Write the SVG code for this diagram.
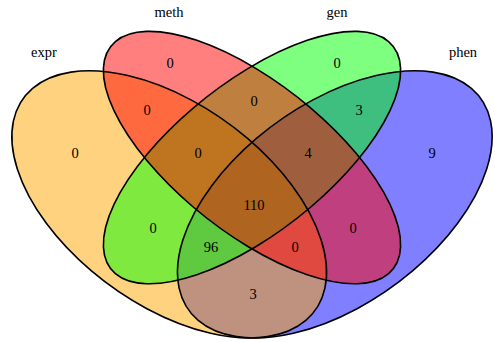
<svg xmlns="http://www.w3.org/2000/svg" width="495" height="342" viewBox="0 0 495 342">
<style>
.fill{stroke:none;fill-opacity:0.5}
.line{fill:none;stroke:#000;stroke-width:1.6;vector-effect:non-scaling-stroke}
text{font-family:"Liberation Serif","Times New Roman",serif;font-size:14.5px;fill:#000;text-anchor:middle}
</style>
<rect width="495" height="342" fill="#fff"/>
<g id="sets" transform="matrix(552,0,0,-468.7,-24,424.7)">
<g id="phen-set"><ellipse class="fill" fill="#0000FF" cx="0.65" cy="0.47" rx="0.35" ry="0.2" transform="rotate(45 0.65 0.47)"/></g>
<g id="expr-set"><ellipse class="fill" fill="#FFA500" cx="0.35" cy="0.47" rx="0.35" ry="0.2" transform="rotate(135 0.35 0.47)"/></g>
<g id="gen-set"><ellipse class="fill" fill="#00FF00" cx="0.5" cy="0.57" rx="0.35" ry="0.15" transform="rotate(45 0.5 0.57)"/></g>
<g id="meth-set"><ellipse class="fill" fill="#FF0000" cx="0.5" cy="0.57" rx="0.35" ry="0.15" transform="rotate(135 0.5 0.57)"/></g>
<g id="outlines">
<ellipse class="line" cx="0.65" cy="0.47" rx="0.35" ry="0.2" transform="rotate(45 0.65 0.47)"/>
<ellipse class="line" cx="0.35" cy="0.47" rx="0.35" ry="0.2" transform="rotate(135 0.35 0.47)"/>
<ellipse class="line" cx="0.5" cy="0.57" rx="0.35" ry="0.15" transform="rotate(45 0.5 0.57)"/>
<ellipse class="line" cx="0.5" cy="0.57" rx="0.35" ry="0.15" transform="rotate(135 0.5 0.57)"/>
</g>
</g>
<g id="connectors"></g>
<g id="labels" font-family="Liberation Serif, serif">
<text x="44" y="57">expr</text>
<text x="169" y="17">meth</text>
<text x="337" y="17">gen</text>
<text x="463" y="57">phen</text>
</g>
<g id="counts" font-family="Liberation Serif, serif">
<text x="75" y="158">0</text>
<text x="170" y="68">0</text>
<text x="147" y="115">0</text>
<text x="254" y="106">0</text>
<text x="198" y="158">0</text>
<text x="337" y="68">0</text>
<text x="359" y="115">3</text>
<text x="308" y="158">4</text>
<text x="432" y="158">9</text>
<text x="254" y="210">110</text>
<text x="153" y="233">0</text>
<text x="211" y="252">96</text>
<text x="295" y="252">0</text>
<text x="353" y="233">0</text>
<text x="253" y="299">3</text>
</g>
</svg>
